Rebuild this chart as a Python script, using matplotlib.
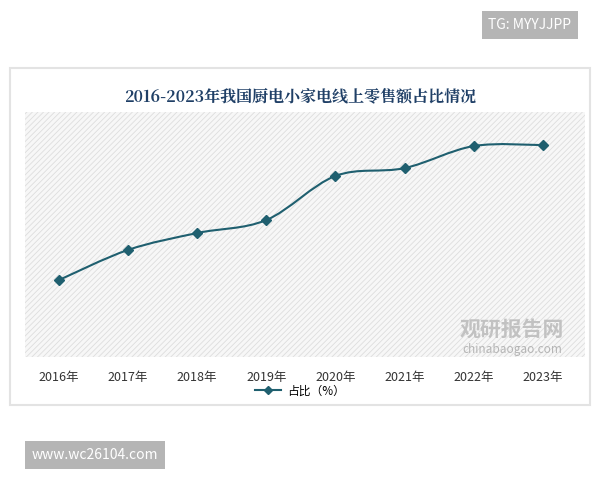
import matplotlib
matplotlib.use('Agg')
import numpy as np
from matplotlib import pyplot as plt
from matplotlib.path import Path
from matplotlib.patches import PathPatch, Rectangle
from matplotlib.lines import Line2D

plt.rcParams['font.family'] = ['Noto Sans CJK SC', 'DejaVu Sans']
plt.rcParams['hatch.linewidth'] = 0.6

years = ['2016年', '2017年', '2018年', '2019年', '2020年', '2021年', '2022年', '2023年']
share = [31.4, 43.7, 50.6, 55.9, 73.9, 77.1, 86.1, 86.5]
title = '2016-2023年我国厨电小家电线上零售额占比情况'
legend_label = '占比（%）'
LINE = '#1f5f6f'

fig = plt.figure(figsize=(6, 4.8), dpi=100)
fig.patch.set_facecolor('white')

# outer panel
fig.patches.append(Rectangle((10/600, 1-405/480), 580/600, 337/480, transform=fig.transFigure,
                             facecolor='white', edgecolor='#e3e3e3', lw=1.5, zorder=-5))

ax = fig.add_axes([25/600, 1-357/480, 560/600, 245/480])
ax.set_facecolor('#f7f7f7')
ax.add_patch(Rectangle((0, 0), 1, 1, transform=ax.transAxes, facecolor='none',
                       edgecolor='#dddddd', lw=0, hatch='//////', zorder=0))
x = np.arange(len(years))

# smooth curve (Catmull-Rom -> cubic bezier)
pts = np.column_stack([x, share]).astype(float)
verts = [tuple(pts[0])]
codes = [Path.MOVETO]
for i in range(len(pts) - 1):
    p0 = pts[max(i - 1, 0)]
    p1, p2 = pts[i], pts[i + 1]
    p3 = pts[min(i + 2, len(pts) - 1)]
    c1 = p1 + (p2 - p0) / 6
    c2 = p2 - (p3 - p1) / 6
    verts += [tuple(c1), tuple(c2), tuple(p2)]
    codes += [Path.CURVE4] * 3
ax.add_patch(PathPatch(Path(verts, codes), facecolor='none', edgecolor=LINE, lw=1.5, zorder=3))
ax.plot(x, share, ls='none', marker='D', ms=5, color=LINE, zorder=4)

ax.set_xlim(-0.49, 7.61)
ax.set_ylim(0, 100)
ax.set_yticks([])
ax.set_xticks(x)
ax.set_xticklabels(years, fontsize=9, color='#333333')
ax.tick_params(axis='x', length=0, pad=10)
for s in ax.spines.values():
    s.set_visible(False)

fig.text(0.5, 1-97/480, title, ha='center', va='center', fontsize=11.5, fontweight='heavy',
         color='#1f3f66', family=['Noto Serif CJK SC', 'Noto Sans CJK SC', 'DejaVu Sans'])

fig.legend([Line2D([], [], color=LINE, marker='D', ms=4, lw=1.5)], [legend_label],
           loc='center', bbox_to_anchor=(0.5, 1-391/480), frameon=False, fontsize=8.5,
           handlelength=2.2, handletextpad=0.5, borderpad=0.1)

# watermarks
fig.text(512/600, 1-329/480, '观研报告网', ha='center', va='center', fontsize=15,
         fontweight='bold', color='#bdbdbd', alpha=0.9, zorder=5)
fig.text(512/600, 1-350/480, 'chinabaogao.com', ha='center', va='center', fontsize=8.5,
         color='#b5b5b5', zorder=5)
fig.text(530/600, 1-25/480, 'TG: MYYJJPP', ha='center', va='center', fontsize=10, color='white',
         bbox=dict(boxstyle='square,pad=0.5', facecolor='#b5b5b5', edgecolor='none'))
fig.text(95/600, 1-455/480, 'www.wc26104.com', ha='center', va='center', fontsize=10, color='white',
         bbox=dict(boxstyle='square,pad=0.5', facecolor='#b5b5b5', edgecolor='none'))

fig.savefig('out.png', dpi=100, facecolor='white')
